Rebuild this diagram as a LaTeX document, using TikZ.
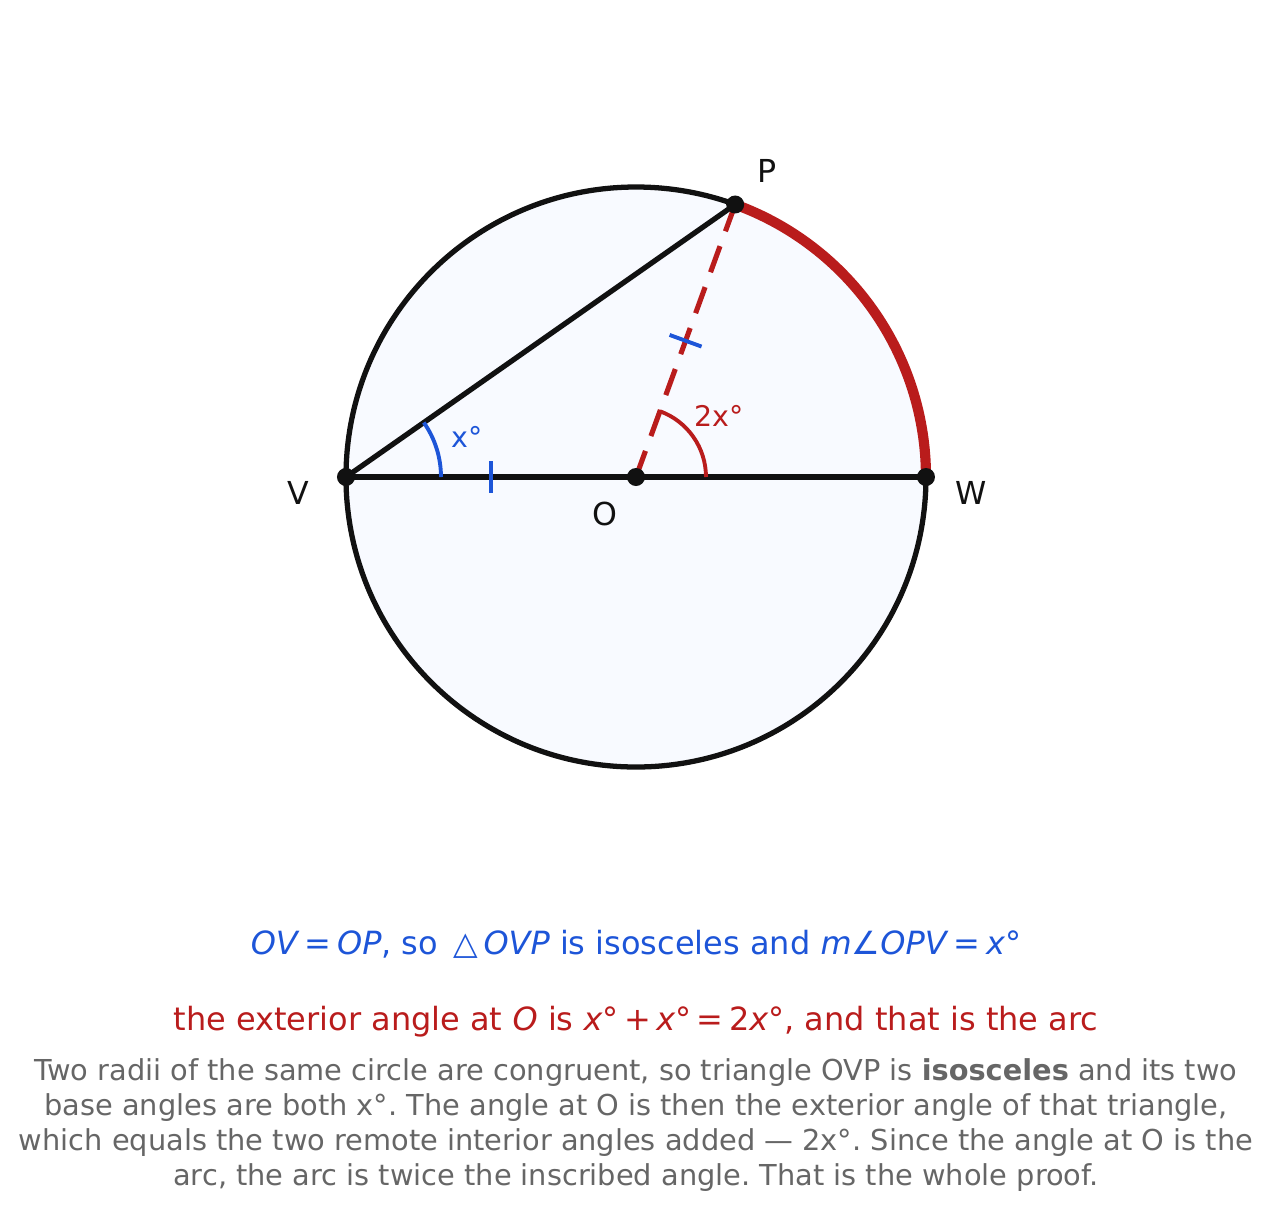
\documentclass[tikz,border=0pt]{standalone}
\usepackage{fontspec}
\setmainfont{DejaVu Sans}
\frenchspacing
\definecolor{ink}{HTML}{111111}
\definecolor{arcred}{HTML}{B91C1C}
\definecolor{markblue}{HTML}{1D55D8}
\definecolor{notegray}{HTML}{666666}
\definecolor{discfill}{HTML}{F8FAFF}

\tikzstyle{dot}=[circle,fill=ink,inner sep=0pt,minimum size=0.18cm]
\tikzstyle{ptlabel}=[font=\fontsize{9}{10}\selectfont,text=ink]
\tikzstyle{chord edge}=[draw=ink,line width=1.5pt]
\tikzstyle{radius edge}=[draw=arcred,line width=1.45pt,dash pattern=on 7.9pt off 4.5pt]
\tikzstyle{arc edge}=[draw=arcred,line width=2.9pt]
\tikzstyle{tick}=[draw=markblue,line width=1.1pt]
\tikzstyle{anglemark}=[line width=1.1pt]
\tikzstyle{anglelabel}=[font=\fontsize{8.1}{10}\selectfont]
\tikzstyle{caption}=[font=\fontsize{9.1}{10}\selectfont]
\tikzstyle{note}=[font=\fontsize{8.2}{10.04}\selectfont,text=notegray,align=center]

\begin{document}
\begin{tikzpicture}
      \useasboundingbox (-6.36,-7.40) rectangle (6.36,4.77);
      % disc
      \draw[ink,line width=1.5pt,fill=discfill] (0,0) circle (2.9);
      % points
      \foreach \name/\pos in {V/180:2.9, O/0:0, W/0:2.9, P/70:2.9}
      {
        \coordinate (\name) at (\pos);
      };
      % arc, chord, radii
      \draw[arc edge] (W) arc (0:70:2.9);
      \path[chord edge] (V) -- (P);
      \path[chord edge] (V) -- (W);
      \path[radius edge] (O) -- (P);
      % angles
      \draw[anglemark,markblue] ([shift={(0:0.95)}]V) arc (0:35:0.95);
      \draw[anglemark,arcred] ([shift={(0:0.7)}]O) arc (0:70:0.7);
      \node[anglelabel,text=markblue] (xlab) at ([shift={(1.21,0.40)}]V) {x°};
      \node[anglelabel,text=arcred] (twoxlab) at ([shift={(0.83,0.61)}]O) {2x°};
      % congruence ticks
      \path (V) -- (O) coordinate[pos=0.5] (mVO);
      \path (O) -- (P) coordinate[pos=0.5] (mOP);
      \draw[tick] (mVO) ++(90:0.16) -- ++(-90:0.32);
      \draw[tick] (mOP) ++(160:0.17) -- ++(-20:0.34);
      % dots and names
      \foreach \name/\lx/\ly in {V/-0.48/-0.16, O/-0.31/-0.37, W/0.45/-0.16, P/0.32/0.34}
      {
        \node[dot] (\name dot) at (\name) {};
        \node[ptlabel] (\name lab) at ([shift={(\lx,\ly)}]\name) {\name};
      };
      % texts
      \node[caption,text=markblue] (line1) at (0,-4.67)
        {\textit{OV}\,=\,\textit{OP}, so \,△\,\textit{OVP} is isosceles and \textit{m}∠\textit{OPV}\,=\,\textit{x}°};
      \node[caption,text=arcred] (line2) at (0,-5.45)
        {the exterior angle at \textit{O} is \textit{x}°\,+\,\textit{x}°\,=\,2\textit{x}°, and that is the arc};
      \node[note] (proof) at (0,-6.48)
        {Two radii of the same circle are congruent, so triangle OVP is \textbf{isosceles} and its two\\
         base angles are both x°. The angle at O is then the exterior angle of that triangle,\\
         which equals the two remote interior angles added — 2x°. Since the angle at O is the\\
         arc, the arc is twice the inscribed angle. That is the whole proof.};
\end{tikzpicture}
\end{document}
